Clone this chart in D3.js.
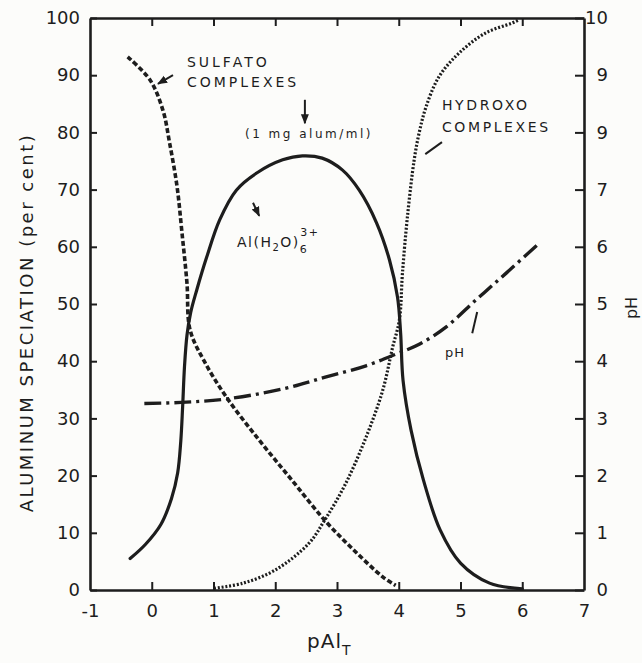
<!DOCTYPE html>
<html>
<head>
<meta charset="utf-8">
<script src="https://cdn.jsdelivr.net/npm/d3@7"></script>
<style>
  body { margin: 0; background: #fcfcfa; }
  text { font-family: 'DejaVu Sans', sans-serif; fill: #1d1d1d; }
</style>
</head>
<body>
<div id="chart"></div>
<script>
// ----- data -----
// x = pAl_T, left y = per cent of total aluminum, pH on right axis
const xTickValues = [-1, 0, 1, 2, 3, 4, 5, 6, 7]
const xInnerTicks = [0, 1, 2, 3, 4, 5, 6]
const leftTickValues = [0, 10, 20, 30, 40, 50, 60, 70, 80, 90, 100]
const rightTickValues = [0, 1, 2, 3, 4, 5, 6, 7, 8, 9, 10]
const rightTickLabels = ['0', '1', '2', '3', '4', '5', '6', '7', '9', '9', '10']

const hexaaqua = [
  [-0.35, 5.5], [-0.1, 8], [0.15, 11.5], [0.32, 16], [0.42, 20.5], [0.47, 26],
  [0.5, 32], [0.53, 39], [0.57, 44.5], [0.63, 48.5], [0.73, 52.5], [0.89, 58.2],
  [1.1, 64.7], [1.37, 69.9], [1.7, 72.9], [2.12, 75.2], [2.44, 75.9], [2.76, 75.5],
  [3.09, 73.4], [3.36, 69.9], [3.64, 64.2], [3.85, 57.7], [3.98, 51.2], [4.03, 45],
  [4.07, 36.6], [4.2, 27.9], [4.4, 19.2], [4.67, 10.5], [5.0, 4.7], [5.47, 1.2], [6.0, 0.2]
]

const sulfato = [
  [-0.39, 93.2], [-0.03, 89.2], [0.18, 83.9], [0.29, 78.1], [0.41, 70.5], [0.49, 62.4],
  [0.57, 53.7], [0.62, 45.5], [0.85, 40], [1.21, 33.7], [1.74, 26.2], [2.27, 19.2],
  [2.8, 12.2], [3.27, 7.0], [3.74, 2.3], [3.95, 0.8]
]

const hydroxo = [
  [1.01, 0.3], [1.48, 1.2], [2.0, 3.5], [2.54, 8.1], [2.8, 12.2], [3.14, 18.6],
  [3.47, 26.7], [3.74, 34.9], [3.9, 42.4], [4.01, 47.2], [4.06, 55.4], [4.14, 65.2],
  [4.25, 75.2], [4.33, 79.9], [4.44, 84.4], [4.65, 89.7], [4.98, 93.9], [5.41, 97.4],
  [5.83, 99.1], [5.95, 99.7]
]

const phCurve = [
  [-0.12, 3.26], [0.48, 3.28], [1.21, 3.34], [2.14, 3.52], [2.81, 3.72], [3.47, 3.92],
  [3.97, 4.13], [4.34, 4.3], [4.77, 4.6], [5.25, 5.07], [5.74, 5.54], [6.27, 6.06]
]

// ----- layout -----
const width = 642
const height = 663
const frame = { left: 90, right: 584, top: 18, bottom: 590 }
const ink = '#1d1d1d'

const x = d3.scaleLinear().domain([-1, 7]).range([frame.left, frame.right])
const yL = d3.scaleLinear().domain([0, 100]).range([frame.bottom, frame.top])
const yR = d3.scaleLinear().domain([0, 10]).range([frame.bottom, frame.top])

const svg = d3.select('#chart').append('svg')
  .attr('width', width).attr('height', height)

svg.append('defs').append('marker')
  .attr('id', 'head')
  .attr('viewBox', '0 0 10 10')
  .attr('refX', 9).attr('refY', 5)
  .attr('markerWidth', 5).attr('markerHeight', 5)
  .attr('orient', 'auto')
  .append('path').attr('d', 'M0,1L10,5L0,9Z').attr('fill', ink)

// ----- axes (ticks point inward, labels outside) -----
function styleAxis (g) {
  g.select('.domain').attr('stroke', ink).attr('stroke-width', 2.6)
  g.selectAll('.tick line').attr('stroke', ink).attr('stroke-width', 2)
  g.selectAll('.tick text').attr('fill', ink).style('font-size', '18px')
    .style('font-family', "'DejaVu Sans', sans-serif")
}

svg.append('g')
  .attr('transform', `translate(0,${frame.bottom})`)
  .call(d3.axisBottom(x).tickValues(xTickValues).tickSize(-8).tickSizeOuter(0)
    .tickFormat(d => d < 0 ? '-' + Math.abs(d) : d))
  .call(styleAxis)
  .call(g => g.selectAll('.tick text').attr('y', 27).attr('dy', 0))
  .call(g => g.selectAll('.tick line').filter(d => !xInnerTicks.includes(d)).remove())

svg.append('g')
  .attr('transform', `translate(0,${frame.top})`)
  .call(d3.axisTop(x).tickValues(xInnerTicks).tickSize(-8).tickSizeOuter(0).tickFormat(''))
  .call(styleAxis)

svg.append('g')
  .attr('transform', `translate(${frame.left},0)`)
  .call(d3.axisLeft(yL).tickValues(leftTickValues).tickSize(-7).tickSizeOuter(0).tickPadding(10))
  .call(styleAxis)

svg.append('g')
  .attr('transform', `translate(${frame.right},0)`)
  .call(d3.axisRight(yR).tickValues(rightTickValues).tickSize(-9).tickSizeOuter(0)
    .tickFormat((d, i) => rightTickLabels[i]))
  .call(styleAxis)
  .call(g => g.selectAll('.tick text').attr('text-anchor', 'end').attr('x', 24))

// axis titles
svg.append('text')
  .attr('transform', `translate(33,${(133 + 512) / 2}) rotate(-90)`)
  .attr('text-anchor', 'middle')
  .style('font-size', '18px').style('letter-spacing', '2.5px')
  .text('ALUMINUM SPECIATION (per cent)')

svg.append('text')
  .attr('transform', 'translate(637,308) rotate(-90)')
  .attr('text-anchor', 'middle')
  .style('font-size', '16px')
  .text('pH')

const xTitle = svg.append('text')
  .attr('x', 307).attr('y', 648)
  .style('font-size', '20px').style('letter-spacing', '1px')
xTitle.append('tspan').text('pAl')
xTitle.append('tspan').attr('dy', 7).style('font-size', '14px').text('T')

// ----- curves -----
const lineL = d3.line().x(d => x(d[0])).y(d => yL(d[1])).curve(d3.curveCatmullRom.alpha(0.5))
const lineR = d3.line().x(d => x(d[0])).y(d => yR(d[1])).curve(d3.curveCatmullRom.alpha(0.5))

const plot = svg.append('g').attr('fill', 'none').attr('stroke', ink)

plot.append('path').attr('d', lineL(hexaaqua))
  .attr('stroke-width', 3.2).attr('stroke-linecap', 'round')

plot.append('path').attr('d', lineL(sulfato))
  .attr('stroke-width', 3.6).attr('stroke-dasharray', '5 2.6')

plot.append('path').attr('d', lineL(hydroxo))
  .attr('stroke-width', 3.2).attr('stroke-dasharray', '2 1.8')

plot.append('path').attr('d', lineR(phCurve))
  .attr('stroke-width', 3.4).attr('stroke-dasharray', '17 5 3 5')

// ----- annotations (positions in data units) -----
const labels = [
  { text: 'SULFATO', x: 0.57, y: 91.4, size: 14, ls: 3 },
  { text: 'COMPLEXES', x: 0.57, y: 87.9, size: 14, ls: 3 },
  { text: '(1 mg alum/ml)', x: 1.51, y: 79.0, size: 12, ls: 2.5 },
  { text: 'HYDROXO', x: 4.7, y: 83.9, size: 14, ls: 2.6 },
  { text: 'COMPLEXES', x: 4.7, y: 80.1, size: 14, ls: 2.6 },
  { text: 'pH', x: 4.75, y: 40.7, size: 13, ls: 1 }
]

svg.append('g').selectAll('text').data(labels).join('text')
  .attr('x', d => x(d.x)).attr('y', d => yL(d.y))
  .style('font-size', d => d.size + 'px')
  .style('letter-spacing', d => d.ls + 'px')
  .text(d => d.text)

const alLabel = svg.append('text')
  .attr('x', x(1.38)).attr('y', yL(60))
  .style('font-size', '14px').style('letter-spacing', '1.5px')
alLabel.append('tspan').text('Al(H')
alLabel.append('tspan').attr('dy', 4).style('font-size', '10px').text('2')
alLabel.append('tspan').attr('dy', -4).text('O)')
alLabel.append('tspan').attr('dy', 6).style('font-size', '11px').text('6')
alLabel.append('tspan').attr('dx', -8).attr('dy', -17).style('font-size', '11px').text('3+')

const leaders = [
  { x1: 0.344, y1: 90.0, x2: 0.101, y2: 88.5, head: true },
  { x1: 2.48, y1: 85.7, x2: 2.48, y2: 81.6, head: true },
  { x1: 4.70, y1: 78.3, x2: 4.43, y2: 76.2, head: false },
  { x1: 1.64, y1: 67.7, x2: 1.74, y2: 65.4, head: true },
  { x1: 5.27, y1: 48.6, x2: 5.19, y2: 44.9, head: false }
]

svg.append('g').selectAll('line').data(leaders).join('line')
  .attr('x1', d => x(d.x1)).attr('y1', d => yL(d.y1))
  .attr('x2', d => x(d.x2)).attr('y2', d => yL(d.y2))
  .attr('stroke', ink).attr('stroke-width', 2)
  .attr('marker-end', d => d.head ? 'url(#head)' : null)
</script>
</body>
</html>
